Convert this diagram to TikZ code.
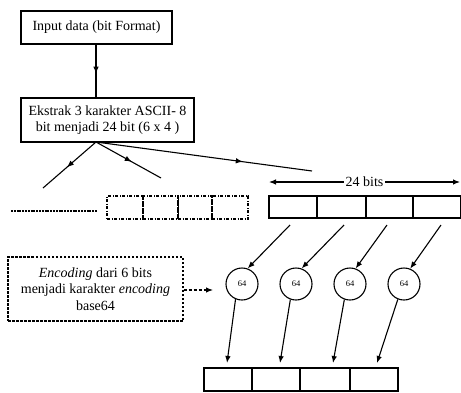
\documentclass[tikz,border=0pt]{standalone}
\usepackage{fontspec}
\setmainfont{Liberation Serif}
\usetikzlibrary{arrows.meta,decorations.markings}
\begin{document}
\begin{tikzpicture}[x=1pt,y=-1pt,
  line width=1.1pt,
  txt/.style={font=\fontsize{14}{16.5}\selectfont},
  box/.style={draw, rectangle, inner sep=0pt, align=center, txt},
  cell/.style={draw, rectangle, inner sep=0pt},
  ddcell/.style={draw, rectangle, inner sep=0pt, dash pattern=on 3pt off 1.5pt on 1pt off 1.5pt},
  circ/.style={draw, circle, inner sep=0pt, minimum size=32pt, font=\fontsize{8.5}{9}\selectfont},
  tip/.style={-{Latex[length=7pt,width=5.5pt]}},
  midarrow/.style={decoration={markings, mark=at position 0.55 with {\arrow{Latex[length=7pt,width=5.5pt]}}}, postaction={decorate}}
]
\useasboundingbox (0,0) rectangle (461,392);

% top boxes
\node[box, minimum width=151pt, minimum height=33pt] (b1) at (96.5,27.5) {Input data (bit Format)};
\node[box, minimum width=173pt, minimum height=44pt] (b2) at (107.5,120) {Ekstrak 3 karakter ASCII- 8\\bit menjadi 24 bit (6 x 4 )};

\coordinate (s1) at (96,44);
\coordinate (s2) at (96,98);
\draw[midarrow] (s1) -- (s2);

\coordinate (o) at (96,142);
\coordinate (e1) at (43,188);
\coordinate (e2) at (161,178);
\coordinate (e3) at (312,171);
\draw[midarrow] (o) -- (e1);
\draw[midarrow] (o) -- (e2);
\draw[decoration={markings, mark=at position 0.68 with {\arrow{Latex[length=7pt,width=5.5pt]}}}, postaction={decorate}] (o) -- (e3);

% dotted line
\coordinate (d1) at (11,211);
\coordinate (d2) at (97,211);
\draw[line width=1.2pt, dash pattern=on 2pt off 0.8pt] (d1) -- (d2);

% dash-dot cells
\node[ddcell, minimum width=36pt, minimum height=23pt] (g1) at (125,207.5) {};
\node[ddcell, minimum width=35pt, minimum height=23pt] (g2) at (160.5,207.5) {};
\node[ddcell, minimum width=34pt, minimum height=23pt] (g3) at (195,207.5) {};
\node[ddcell, minimum width=36pt, minimum height=23pt] (g4) at (230,207.5) {};
\draw (g2.north east) -- (g2.south east);

% 24 bits arrow
\coordinate (a1) at (269,182);
\coordinate (a2) at (460,182);
\draw[{Latex[length=7pt,width=5.5pt]}-{Latex[length=7pt,width=5.5pt]}] (a1) -- node[fill=white, inner sep=2pt, txt] (lbl) {24 bits} (a2);

% top row cells
\node[cell, minimum width=48pt, minimum height=22pt] (t1) at (293,207) {};
\node[cell, minimum width=49pt, minimum height=22pt] (t2) at (341.5,207) {};
\node[cell, minimum width=47pt, minimum height=22pt] (t3) at (389.5,207) {};
\node[cell, minimum width=47.5pt, minimum height=22pt] (t4) at (436.75,207) {};

% circles
\node[circ] (c1) at (242,284) {64};
\node[circ] (c2) at (296,284) {64};
\node[circ] (c3) at (350,284) {64};
\node[circ] (c4) at (404,284) {64};

\coordinate (p1) at (290,225);
\coordinate (p2) at (344,225);
\coordinate (p3) at (387,225);
\coordinate (p4) at (441,225);
\draw[tip] (p1) -- (c1.70);
\draw[tip] (p2) -- (c2.70);
\draw[tip] (p3) -- (c3.70);
\draw[tip] (p4) -- (c4.68);

% bottom row cells
\node[cell, minimum width=48pt, minimum height=23pt] (u1) at (228,379.5) {};
\node[cell, minimum width=48pt, minimum height=23pt] (u2) at (276,379.5) {};
\node[cell, minimum width=50pt, minimum height=23pt] (u3) at (325,379.5) {};
\node[cell, minimum width=48pt, minimum height=23pt] (u4) at (374,379.5) {};

\coordinate (q1) at (227,363);
\coordinate (q2) at (280,363);
\coordinate (q3) at (333,363);
\coordinate (q4) at (377,363);
\draw[tip] (c1.-113) -- (q1);
\draw[tip] (c2.-110) -- (q2);
\draw[tip] (c3.-110) -- (q3);
\draw[tip] (c4.-112) -- (q4);

% encoding box
\node[box, dash pattern=on 2.5pt off 1.5pt, minimum width=175pt, minimum height=64pt] (enc) at (95.5,289)
  {\textit{Encoding} dari 6 bits\\menjadi karakter \textit{encoding}\\base64};
\coordinate (r1) at (213,290);
\draw[tip, dash pattern=on 3pt off 2pt] (enc.east |- r1) -- (r1);

\end{tikzpicture}
\end{document}
